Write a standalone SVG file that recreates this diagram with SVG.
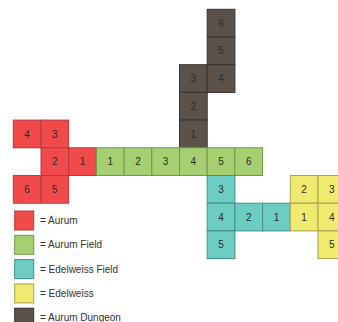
<svg xmlns="http://www.w3.org/2000/svg" width="338" height="322" viewBox="0 0 338 322">
<style>
rect.c{stroke-width:1}
.au{fill:#f04a4a;stroke:#b53a3a}
.af{fill:#a6cf72;stroke:#6f9a4e}
.ef{fill:#6dcdc3;stroke:#3f8f89}
.ed{fill:#f0ea6e;stroke:#a9a24f}
.dg{fill:#5d5249;stroke:#3a332d}
text.n{font-family:"Liberation Sans",Arial,sans-serif;font-size:10px;fill:#2b2b2b;text-anchor:middle}
text.l{font-family:"Liberation Sans",Arial,sans-serif;font-size:10px;fill:#333}
</style>
<rect width="338" height="322" fill="#ffffff"/>
<g id="dungeon">
<g id="dg6"><rect class="c dg" x="207.2" y="9.3" width="27.7" height="27.7"/><text class="n" x="221.05" y="26.7">6</text></g>
<g id="dg5"><rect class="c dg" x="207.2" y="37.0" width="27.7" height="27.7"/><text class="n" x="221.05" y="54.4">5</text></g>
<g id="dg3"><rect class="c dg" x="179.5" y="64.7" width="27.7" height="27.7"/><text class="n" x="193.35" y="82.1">3</text></g>
<g id="dg4"><rect class="c dg" x="207.2" y="64.7" width="27.7" height="27.7"/><text class="n" x="221.05" y="82.1">4</text></g>
<g id="dg2"><rect class="c dg" x="179.5" y="92.4" width="27.7" height="27.7"/><text class="n" x="193.35" y="109.8">2</text></g>
<g id="dg1"><rect class="c dg" x="179.5" y="120.1" width="27.7" height="27.7"/><text class="n" x="193.35" y="137.5">1</text></g>
</g>
<g id="aurum">
<g id="au4"><rect class="c au" x="13.3" y="120.1" width="27.7" height="27.7"/><text class="n" x="27.15" y="137.5">4</text></g>
<g id="au3"><rect class="c au" x="41.0" y="120.1" width="27.7" height="27.7"/><text class="n" x="54.85" y="137.5">3</text></g>
<g id="au2"><rect class="c au" x="41.0" y="147.8" width="27.7" height="27.7"/><text class="n" x="54.85" y="165.2">2</text></g>
<g id="au1"><rect class="c au" x="68.7" y="147.8" width="27.7" height="27.7"/><text class="n" x="82.55" y="165.2">1</text></g>
<g id="au6"><rect class="c au" x="13.3" y="175.5" width="27.7" height="27.7"/><text class="n" x="27.15" y="192.9">6</text></g>
<g id="au5"><rect class="c au" x="41.0" y="175.5" width="27.7" height="27.7"/><text class="n" x="54.85" y="192.9">5</text></g>
</g>
<g id="aurumfield">
<g id="af1"><rect class="c af" x="96.4" y="147.8" width="27.7" height="27.7"/><text class="n" x="110.25" y="165.2">1</text></g>
<g id="af2"><rect class="c af" x="124.1" y="147.8" width="27.7" height="27.7"/><text class="n" x="137.95" y="165.2">2</text></g>
<g id="af3"><rect class="c af" x="151.8" y="147.8" width="27.7" height="27.7"/><text class="n" x="165.65" y="165.2">3</text></g>
<g id="af4"><rect class="c af" x="179.5" y="147.8" width="27.7" height="27.7"/><text class="n" x="193.35" y="165.2">4</text></g>
<g id="af5"><rect class="c af" x="207.2" y="147.8" width="27.7" height="27.7"/><text class="n" x="221.05" y="165.2">5</text></g>
<g id="af6"><rect class="c af" x="234.9" y="147.8" width="27.7" height="27.7"/><text class="n" x="248.75" y="165.2">6</text></g>
</g>
<g id="edelweissfield">
<g id="ef3"><rect class="c ef" x="207.2" y="175.5" width="27.7" height="27.7"/><text class="n" x="221.05" y="192.9">3</text></g>
<g id="ef4"><rect class="c ef" x="207.2" y="203.2" width="27.7" height="27.7"/><text class="n" x="221.05" y="220.6">4</text></g>
<g id="ef2"><rect class="c ef" x="234.9" y="203.2" width="27.7" height="27.7"/><text class="n" x="248.75" y="220.6">2</text></g>
<g id="ef1"><rect class="c ef" x="262.6" y="203.2" width="27.7" height="27.7"/><text class="n" x="276.45" y="220.6">1</text></g>
<g id="ef5"><rect class="c ef" x="207.2" y="230.9" width="27.7" height="27.7"/><text class="n" x="221.05" y="248.3">5</text></g>
</g>
<g id="edelweiss">
<g id="ed2"><rect class="c ed" x="290.3" y="175.5" width="27.7" height="27.7"/><text class="n" x="304.15" y="192.9">2</text></g>
<g id="ed3"><rect class="c ed" x="318.0" y="175.5" width="27.7" height="27.7"/><text class="n" x="331.85" y="192.9">3</text></g>
<g id="ed1"><rect class="c ed" x="290.3" y="203.2" width="27.7" height="27.7"/><text class="n" x="304.15" y="220.6">1</text></g>
<g id="ed4"><rect class="c ed" x="318.0" y="203.2" width="27.7" height="27.7"/><text class="n" x="331.85" y="220.6">4</text></g>
<g id="ed5"><rect class="c ed" x="318.0" y="230.9" width="27.7" height="27.7"/><text class="n" x="331.85" y="248.3">5</text></g>
</g>
<g id="connectors"></g>
<g id="legend">
<g id="lg-au"><rect class="c au" x="14.7" y="211" width="19" height="19"/><text class="l" x="40" y="224">= Aurum</text></g>
<g id="lg-af"><rect class="c af" x="14.7" y="235.3" width="19" height="19"/><text class="l" x="40" y="248.3">= Aurum Field</text></g>
<g id="lg-ef"><rect class="c ef" x="14.7" y="259.6" width="19" height="19"/><text class="l" x="40" y="272.6">= Edelweiss Field</text></g>
<g id="lg-ed"><rect class="c ed" x="14.7" y="283.9" width="19" height="19"/><text class="l" x="40" y="296.9">= Edelweiss</text></g>
<g id="lg-dg"><rect class="c dg" x="14.7" y="308.2" width="19" height="19"/><text class="l" x="40" y="321.2">= Aurum Dungeon</text></g>
</g>
</svg>
